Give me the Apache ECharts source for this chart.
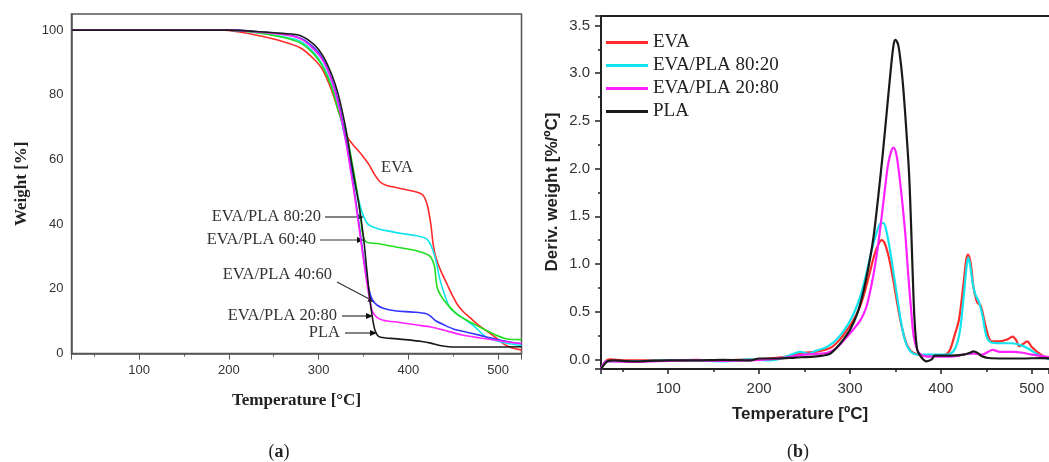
<!DOCTYPE html>
<html>
<head>
<meta charset="utf-8">
<script src="https://cdn.jsdelivr.net/npm/echarts/dist/echarts.min.js"></script>
<style>
  html, body { margin: 0; padding: 0; background: #fff; }
  #main { width: 1049px; height: 462px; }
</style>
</head>
<body>
<div id="main"></div>
<script>
// (a) TGA weight curves, [temperature, weight %]
var tgaEVA = [[25,100],[195,100],[210,99.5],[230,98.5],[260,96.5],[280,94.5],[295,91],[305,87.5],[315,81],[322,75],[328,70],[333,66.5],[340,64],[348,61.5],[356,58.5],[362,55.5],[368,53.2],[375,52],[385,51.4],[395,50.8],[408,50],[416,49],[421,46],[425,40],[428,33],[432,28.5],[437,25],[443,21.5],[449,18],[454,15.4],[461,13],[469,11],[478,8.8],[487,7],[497,5],[506,3],[515,1.8],[526,1.1]];
var tga8020 = [[25,100],[200,100],[230,99.3],[260,98],[280,96.5],[295,93],[305,89],[315,82.5],[322,76],[330,66],[336,58],[341,52],[346,46],[350,42.5],[355,40],[362,39],[375,38],[395,37],[410,36.4],[420,35.5],[425,33.5],[430,29.5],[435,23],[440,18.5],[446,14.3],[455,12],[465,10.2],[475,8],[487,5],[500,3.8],[512,3],[526,2.5]];
var tga6040 = [[25,100],[200,100],[230,99.3],[260,97.8],[280,96],[295,92.5],[305,88.5],[315,82],[322,75],[331,68],[338,58],[343,50],[346,44],[349,37],[353,34.5],[365,34],[385,33],[405,32],[418,31],[425,29.8],[429,27],[432,20.5],[437,17.5],[443,15.3],[454,12.2],[467,10],[480,8.1],[495,6],[510,4.5],[526,4.3]];
var tga4060 = [[25,100],[200,100],[230,99.6],[260,98.8],[280,97.5],[295,94.5],[305,91],[315,84.5],[322,78],[330,67],[336,57],[341,48],[346,38],[351,28],[356,20],[360,16.5],[365,15],[372,14],[385,13.2],[405,12.8],[420,12.3],[425,11.5],[430,10.2],[440,8.8],[450,7.6],[465,6.6],[480,5.6],[495,4.6],[510,3.7],[526,3]];
var tga2080 = [[25,100],[200,100],[230,99.5],[260,98.7],[280,97.3],[295,94],[305,90.5],[315,84],[322,77],[330,66],[336,56],[341,47],[346,37],[351,27],[356,18],[360,13],[365,11.2],[372,10.3],[390,9.6],[410,8.8],[425,8.2],[440,7.2],[460,5.7],[480,4.8],[500,4],[515,3.4],[526,3.1]];
var tgaPLA = [[25,100],[200,100],[230,99.6],[260,99],[280,98.3],[295,95.5],[305,92],[315,86],[322,80],[330,70],[336,60],[341,52],[345,46],[350,36],[354,25],[357,17],[360,11],[363,7],[367,5.2],[375,4.8],[385,4.6],[400,4.2],[415,3.7],[425,3.2],[435,2.5],[445,2.1],[460,2.0],[490,2.0],[526,2.1]];

// (b) DTG curves, [temperature, deriv. weight %/C]
var dtgEVA = [[26,-0.1],[31,-0.02],[36,0.0],[50,-0.01],[70,-0.01],[100,-0.01],[130,-0.005],[160,-0.01],[190,0.0],[210,0.01],[230,0.03],[250,0.07],[262,0.08],[272,0.1],[280,0.13],[288,0.2],[296,0.3],[303,0.4],[310,0.53],[316,0.7],[322,0.92],[327,1.1],[332,1.22],[335,1.25],[338,1.22],[342,1.1],[346,0.92],[350,0.7],[354,0.48],[358,0.3],[362,0.17],[366,0.1],[372,0.06],[380,0.04],[395,0.04],[405,0.05],[410,0.1],[415,0.25],[420,0.42],[425,0.8],[428,1.05],[430,1.1],[433,1.0],[436,0.75],[440,0.6],[444,0.56],[448,0.4],[452,0.25],[456,0.19],[465,0.19],[473,0.21],[479,0.24],[483,0.2],[486,0.14],[490,0.16],[495,0.19],[500,0.13],[506,0.08],[512,0.04],[518,0.01],[530,-0.01]];
var dtg8020 = [[26,-0.1],[32,-0.02],[40,-0.02],[60,-0.02],[100,-0.01],[130,-0.01],[160,-0.02],[190,0.0],[210,-0.01],[220,0.0],[235,0.05],[245,0.08],[255,0.06],[262,0.09],[272,0.12],[282,0.18],[290,0.26],[298,0.37],[305,0.5],[312,0.68],[318,0.9],[324,1.15],[330,1.35],[334,1.43],[337,1.43],[340,1.35],[344,1.15],[348,0.9],[352,0.65],[356,0.4],[360,0.22],[364,0.12],[370,0.06],[380,0.05],[400,0.05],[410,0.06],[416,0.12],[421,0.3],[425,0.65],[428,0.95],[430,1.07],[432,1.0],[435,0.8],[438,0.68],[442,0.6],[446,0.45],[450,0.25],[455,0.18],[465,0.17],[478,0.17],[488,0.15],[497,0.11],[505,0.06],[512,0.03],[520,0.0],[530,-0.01]];
var dtg2080 = [[26,-0.1],[32,-0.02],[40,-0.02],[60,-0.025],[80,-0.02],[100,-0.015],[130,-0.01],[160,-0.015],[190,-0.01],[210,0.0],[230,0.02],[250,0.05],[265,0.06],[275,0.07],[285,0.12],[295,0.22],[305,0.33],[312,0.42],[318,0.55],[323,0.75],[328,1.01],[333,1.35],[338,1.75],[342,2.05],[346,2.2],[348,2.22],[351,2.15],[354,1.95],[357,1.7],[361,1.3],[364,0.9],[367,0.55],[370,0.25],[374,0.1],[378,0.05],[385,0.03],[410,0.03],[420,0.04],[430,0.06],[438,0.06],[445,0.05],[452,0.08],[457,0.1],[465,0.08],[480,0.08],[490,0.07],[500,0.05],[515,0.03],[530,0.02]];
var dtgPLA = [[26,-0.1],[33,-0.02],[40,-0.01],[60,-0.02],[80,-0.015],[100,-0.01],[130,-0.01],[160,-0.005],[190,-0.01],[200,0.01],[220,0.01],[240,0.02],[260,0.03],[270,0.04],[278,0.06],[285,0.12],[292,0.2],[300,0.31],[308,0.48],[314,0.68],[320,0.95],[326,1.29],[331,1.7],[336,2.15],[341,2.65],[345,3.05],[348,3.3],[350,3.35],[353,3.3],[356,3.1],[359,2.8],[362,2.4],[365,1.95],[367,1.47],[369,0.9],[371,0.42],[374,0.1],[378,0.03],[384,-0.02],[390,0.0],[393,0.04],[410,0.04],[425,0.05],[432,0.07],[436,0.085],[440,0.07],[446,0.03],[452,0.015],[470,0.01],[490,0.01],[510,0.015],[530,0.0]];

var tgaNames = ['EVA', 'EVA/PLA 80:20', 'EVA/PLA 60:40', 'EVA/PLA 40:60', 'EVA/PLA 20:80', 'PLA'];
var dtgNames = ['EVA', 'EVA/PLA 80:20', 'EVA/PLA 20:80', 'PLA'];

var colors = {
  'EVA': '#ff2a2a',
  'EVA/PLA 80:20': '#12e4ee',
  'EVA/PLA 60:40': '#22dd22',
  'EVA/PLA 40:60': '#3535ff',
  'EVA/PLA 20:80': '#ff22ff',
  'PLA': '#1a1a1a'
};

var tgaData = [tgaEVA, tga8020, tga6040, tga4060, tga2080, tgaPLA];
var dtgData = [dtgEVA, dtg8020, dtg2080, dtgPLA];

var serif = '"Liberation Serif", "Times New Roman", serif';
var sans = '"Liberation Sans", Arial, sans-serif';

function lineSeries(name, data, axisIdx, width) {
  return {
    name: name,
    type: 'line',
    xAxisIndex: axisIdx,
    yAxisIndex: axisIdx,
    data: data,
    showSymbol: false,
    symbol: 'none',
    smooth: 0.3,
    animation: false,
    lineStyle: { color: colors[name], width: width },
    itemStyle: { color: colors[name] }
  };
}

var series = [];
tgaNames.forEach(function (n, i) { series.push(lineSeries(n, tgaData[i], 0, 1.6)); });
dtgNames.forEach(function (n, i) { series.push(lineSeries(n, dtgData[i], 1, 2.2)); });

// left panel callouts (text + arrow)
function arrowLine(x1, y1, x2, y2) {
  var ang = Math.atan2(y2 - y1, x2 - x1);
  var L = 7, W = 3;
  var bx = x2 - L * Math.cos(ang), by = y2 - L * Math.sin(ang);
  return [
    { type: 'line', shape: { x1: x1, y1: y1, x2: bx, y2: by }, style: { stroke: '#333', lineWidth: 1.2 } },
    { type: 'polygon', shape: { points: [[x2, y2], [bx - W * Math.sin(ang), by + W * Math.cos(ang)], [bx + W * Math.sin(ang), by - W * Math.cos(ang)]] }, style: { fill: '#111' } }
  ];
}
function label(txt, x, y, align) {
  return { type: 'text', x: x, y: y, style: { text: txt, font: '16.5px ' + serif, fill: '#333', align: align || 'right', verticalAlign: 'middle' } };
}

var graphics = [
  label('EVA', 397, 168, 'center'),
  label('EVA/PLA 80:20', 321, 217),
  label('EVA/PLA 60:40', 316, 240),
  label('EVA/PLA 40:60', 332, 275),
  label('EVA/PLA 20:80', 337, 316),
  label('PLA', 340, 333)
].concat(
  arrowLine(325, 217, 364, 217),
  arrowLine(320, 240, 364, 240),
  arrowLine(337, 282, 375, 302),
  arrowLine(342, 316, 373, 316),
  arrowLine(345, 333, 377, 333),
  [
    // top frame of panel (b); its right side runs past the picture
    { type: 'line', shape: { x1: 601, y1: 16, x2: 1049, y2: 16 }, style: { stroke: '#222', lineWidth: 2 } },
    { type: 'text', x: 552, y: 192, rotation: Math.PI / 2, style: { text: 'Deriv. weight [%/ºC]', font: 'bold 17px ' + sans, fill: '#222', align: 'center', verticalAlign: 'middle' } },
    { type: 'text', x: 800, y: 414, style: { text: 'Temperature [ºC]', font: 'bold 17px ' + sans, fill: '#222', align: 'center', verticalAlign: 'middle' } },
    { type: 'text', x: 279, y: 452, style: { rich: { p: { font: '18px ' + serif, fill: '#222' }, b: { font: 'bold 18px ' + serif, fill: '#222' } }, text: '{p|(}{b|a}{p|)}', align: 'center', verticalAlign: 'middle' } },
    { type: 'text', x: 798, y: 452, style: { rich: { p: { font: '18px ' + serif, fill: '#222' }, b: { font: 'bold 18px ' + serif, fill: '#222' } }, text: '{p|(}{b|b}{p|)}', align: 'center', verticalAlign: 'middle' } }
  ]
);

var option = {
  backgroundColor: '#fff',
  animation: false,
  legend: {
    data: dtgNames,
    orient: 'vertical',
    left: 606,
    top: 33,
    padding: 0,
    itemWidth: 42,
    itemHeight: 3,
    itemGap: 4,
    icon: 'rect',
    textStyle: { fontFamily: serif, fontSize: 19, color: '#222' }
  },
  grid: [
    { left: 71.5, top: 14, width: 450, height: 339.5, show: true, borderColor: '#555', borderWidth: 1.5, backgroundColor: 'transparent' },
    { left: 601, top: 16, width: 448, height: 353 }
  ],
  xAxis: [
    {
      gridIndex: 0, type: 'value', min: 24.8, max: 526, splitNumber: 5,
      name: 'Temperature [°C]', nameLocation: 'middle', nameGap: 39,
      nameTextStyle: { fontFamily: serif, fontWeight: 'bold', fontSize: 17, color: '#222' },
      axisLine: { onZero: false, lineStyle: { color: '#555', width: 1.5 } },
      axisTick: { show: true, length: 6, lineStyle: { color: '#555' } },
      minorTick: { show: true, splitNumber: 2, length: 3, lineStyle: { color: '#555' } },
      axisLabel: { showMinLabel: false, showMaxLabel: false, margin: 10, fontFamily: sans, fontSize: 13, color: '#333' },
      splitLine: { show: false }
    },
    {
      gridIndex: 1, type: 'value', min: 26, max: 519, splitNumber: 5,
      axisLine: { onZero: false, lineStyle: { color: '#222', width: 2 } },
      axisTick: { show: true, length: 5, lineStyle: { color: '#222', width: 1.5 } },
      minorTick: { show: true, splitNumber: 2, length: 3, lineStyle: { color: '#222', width: 1.5 } },
      axisLabel: { showMinLabel: false, showMaxLabel: false, margin: 12, fontFamily: sans, fontSize: 15, color: '#333' },
      splitLine: { show: false }
    }
  ],
  yAxis: [
    {
      gridIndex: 0, type: 'value', min: 0, max: 105, interval: 20,
      name: 'Weight [%]', nameLocation: 'middle', nameGap: 41,
      nameTextStyle: { fontFamily: serif, fontWeight: 'bold', fontSize: 17, color: '#222' },
      axisLine: { show: true, onZero: false, lineStyle: { color: '#555', width: 1.5 } },
      axisTick: { show: false },
      axisLabel: { showMaxLabel: false, margin: 8, fontFamily: sans, fontSize: 13, color: '#333' },
      splitLine: { show: false }
    },
    {
      gridIndex: 1, type: 'value', min: -0.1, max: 3.6, splitNumber: 7,
      axisLine: { show: true, onZero: false, lineStyle: { color: '#222', width: 2 } },
      axisTick: { show: true, length: 6, lineStyle: { color: '#222', width: 1.5 } },
      minorTick: { show: true, splitNumber: 2, length: 3, lineStyle: { color: '#222', width: 1.5 } },
      axisLabel: { showMinLabel: false, showMaxLabel: false, margin: 11, fontFamily: sans, fontSize: 15, color: '#333',
        formatter: function (v) { return v.toFixed(1); } },
      splitLine: { show: false }
    }
  ],
  graphic: graphics,
  series: series
};

var chart = echarts.init(document.getElementById('main'));
chart.setOption(option);
</script>
</body>
</html>
